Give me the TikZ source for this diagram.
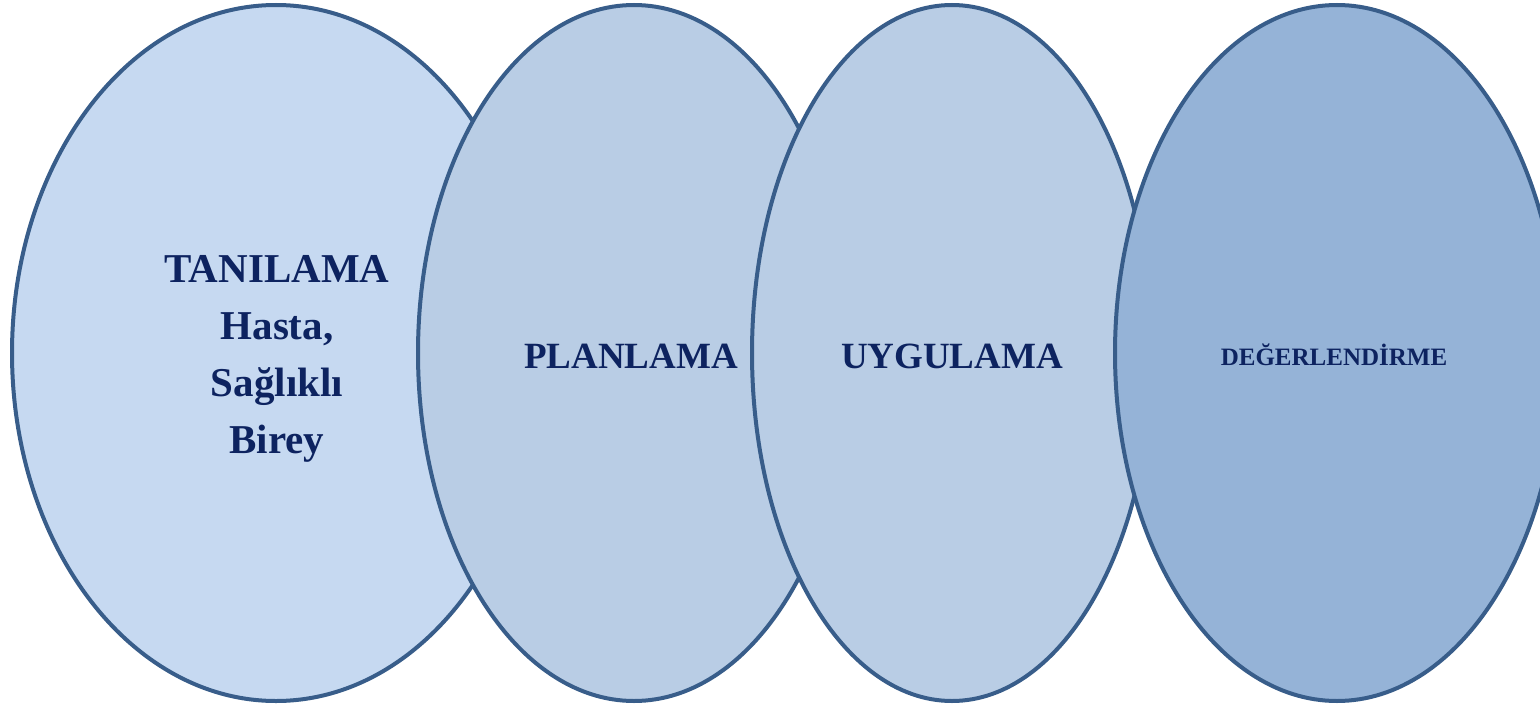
\documentclass[tikz,border=0pt]{standalone}
\usepackage{fontspec}
\setmainfont{Liberation Serif}
\usetikzlibrary{shapes.geometric}
\definecolor{fillA}{HTML}{C6D9F1}
\definecolor{fillB}{HTML}{B9CDE5}
\definecolor{fillC}{HTML}{95B3D7}
\definecolor{edgecol}{HTML}{385D8A}
\definecolor{txtcol}{HTML}{0D2360}
\tikzset{
  oval/.style={ellipse, draw=edgecol, line width=4pt, inner sep=0pt, minimum height=696pt},
  lbl/.style={text=txtcol, font=\bfseries, align=center, inner sep=0pt}
}
\begin{document}
\begin{tikzpicture}[x=1pt,y=-1pt]
\useasboundingbox (0,0) rectangle (1540,704);
\begin{scope}
\clip (0,0) rectangle (1540,704);
\node[oval, fill=fillA, minimum width=528pt] (e1) at (276,353) {};
\node[oval, fill=fillB, minimum width=432pt] (e2) at (634,353) {};
\node[oval, fill=fillB, minimum width=400pt] (e3) at (952,353) {};
\node[oval, fill=fillC, minimum width=444pt] (e4) at (1337,353) {};
\end{scope}
\node[lbl, font=\bfseries\fontsize{41}{57}\selectfont] (t1) at (277,359) {TANILAMA\\Hasta,\\Sağlıklı\\Birey};
\node[lbl, font=\bfseries\fontsize{37}{44}\selectfont] (t2) at (631,356) {PLANLAMA};
\node[lbl, font=\bfseries\fontsize{37}{44}\selectfont] (t3) at (952,356) {UYGULAMA};
\node[lbl, font=\bfseries\fontsize{25}{30}\selectfont] (t4) at (1334,355) {DEĞERLENDİRME};
\end{tikzpicture}
\end{document}
